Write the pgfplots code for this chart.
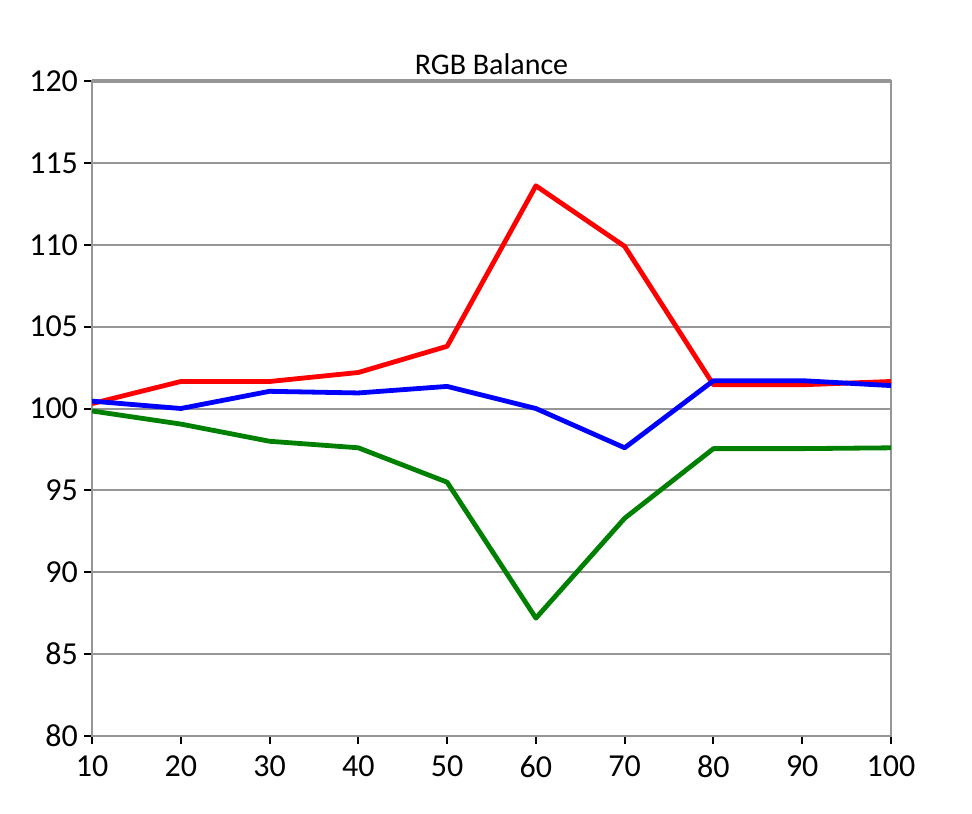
\documentclass[border=0pt]{standalone}
\usepackage{fontspec}
\setmainfont{Carlito}
\usepackage{pgfplots}
\pgfplotsset{compat=1.18}

\definecolor{gridgray}{RGB}{150,150,150}
\definecolor{rgbred}{RGB}{255,0,0}
\definecolor{rgbgreen}{RGB}{0,128,0}
\definecolor{rgbblue}{RGB}{0,0,255}

\begin{document}
\begin{tikzpicture}
    \begin{axis}[
        name=main,
        scale only axis,
        width=399.5pt,
        height=327.5pt,
        xmin=10, xmax=100,
        ymin=80, ymax=120,
        xtick={10,20,...,100},
        ytick={80,85,...,120},
        xtick pos=bottom,
        ytick pos=left,
        ymajorgrids,
        grid style={gridgray, line width=1pt},
        axis line style={gridgray, line width=1pt},
        tick style={black, line width=1pt},
        tick align=outside,
        major tick length=4pt,
        tick label style={font=\fontsize{16}{18}\selectfont},
        xticklabel style={yshift=-2.5pt},
        yticklabel style={xshift=0.5pt},
        /pgf/number format/assume math mode=true,
        title={RGB Balance},
        title style={font=\fontsize{15}{17}\selectfont, yshift=-6.5pt},
        every axis plot/.append style={line width=2.4pt, line join=round},
        ]
        \addplot[rgbred] coordinates {(10,100.3) (20,101.65) (30,101.65) (40,102.2) (50,103.8) (60,113.6) (70,109.9) (80,101.45) (90,101.45) (100,101.65)};
        \addplot[rgbblue] coordinates {(10,100.45) (20,100.0) (30,101.05) (40,100.95) (50,101.35) (60,100.0) (70,97.6) (80,101.7) (90,101.7) (100,101.4)};
        \addplot[rgbgreen] coordinates {(10,99.85) (20,99.05) (30,98.0) (40,97.6) (50,95.5) (60,87.2) (70,93.3) (80,97.55) (90,97.55) (100,97.6)};
    \end{axis}
    \draw[gridgray, line width=2pt] (main.north west) -- (main.north east);
    \path (main.south west) ++(-46pt,-38.5pt) coordinate (bbsw);
    \path (main.north east) ++(40.5pt,40.5pt) coordinate (bbne);
    \useasboundingbox (bbsw) rectangle (bbne);
\end{tikzpicture}
\end{document}
